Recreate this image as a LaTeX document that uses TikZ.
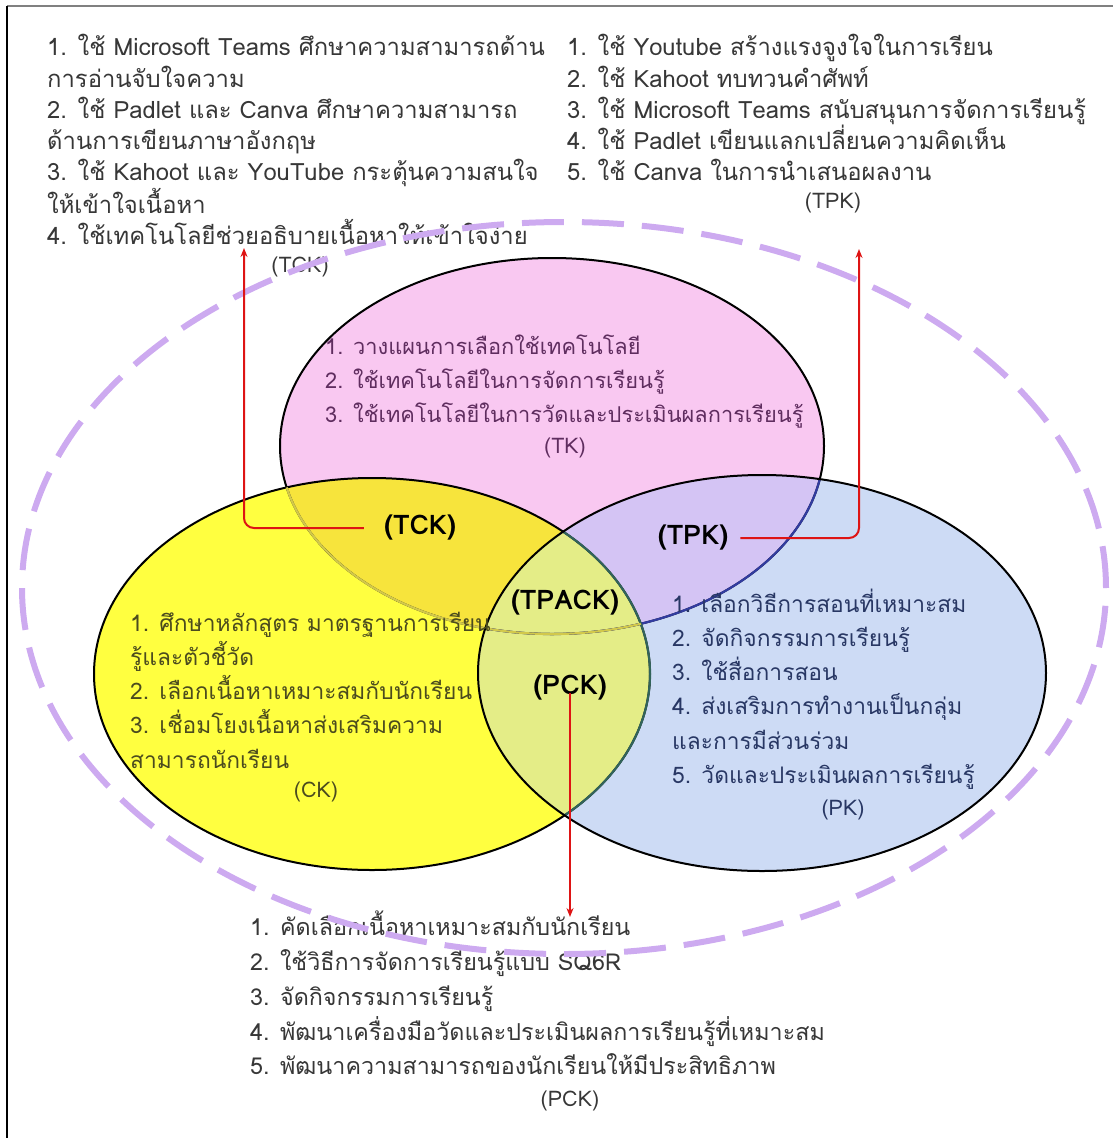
\documentclass[tikz,border=0pt]{standalone}
\usepackage{fontspec}
\setmainfont{Loma}[Script=Thai]
\usetikzlibrary{arrows.meta}
\definecolor{tkfill}{RGB}{249,200,241}
\definecolor{ckfill}{RGB}{255,255,64}
\definecolor{pkfill}{RGB}{205,219,245}
\definecolor{tckfill}{RGB}{247,228,60}
\definecolor{tpkfill}{RGB}{212,196,244}
\definecolor{pckfill}{RGB}{228,237,135}
\definecolor{dashpurple}{RGB}{205,170,240}
\definecolor{arrowred}{RGB}{222,20,20}
\definecolor{txtgray}{RGB}{55,55,55}
\definecolor{tktext}{RGB}{95,45,95}
\definecolor{cktext}{RGB}{75,75,30}
\definecolor{pktext}{RGB}{40,55,100}
\newcommand{\topline}{\rule{0pt}{30pt}}
\begin{document}
\begin{tikzpicture}[x=1pt,y=-1pt,
  tk/.style={insert path={(TK) ellipse [x radius=272pt, y radius=188pt]}},
  ck/.style={insert path={(CK) ellipse [x radius=278pt, y radius=196pt]}},
  pk/.style={insert path={(PK) ellipse [x radius=284pt, y radius=198pt]}},
  body/.style={align=left, anchor=north west, inner sep=0pt, text=txtgray,
    font=\fontsize{23.8}{31.3}\selectfont},
  inbody/.style={body, font=\fontsize{22.8}{34.2}\selectfont},
  tag/.style={inner sep=0pt, text=txtgray, font=\fontsize{21.5}{24}\selectfont},
  lab/.style={inner sep=0pt, font=\fontsize{27}{30}\selectfont\bfseries},
  flow/.style={draw=arrowred, line width=2pt, rounded corners=10pt,
    -{Stealth[length=9pt,width=7pt]}}]
  \useasboundingbox (0,0) rectangle (1113,1138);
  \path (552,446) coordinate (TK)
    (372,674) coordinate (CK)
    (762,673) coordinate (PK)
    (564,588) coordinate (O);
  % fills of the three sets and their overlaps
  \fill[tkfill][tk];
  \fill[ckfill][ck];
  \fill[pkfill][pk];
  \begin{scope}
    \clip[tk];
    \fill[tckfill][ck];
    \fill[tpkfill][pk];
  \end{scope}
  \begin{scope}
    \clip[ck];
    \fill[pckfill][pk];
  \end{scope}
  % outlines
  \draw[line width=2pt][tk];
  \draw[line width=2pt][ck];
  \begin{scope}
    \clip[pk];
    \draw[line width=2.2pt, draw={rgb,255:red,50;green,60;blue,160}][tk];
    \draw[line width=2.2pt, draw={rgb,255:red,50;green,100;blue,90}][ck];
  \end{scope}
  \begin{scope}
    \clip[ck];
    \draw[line width=2.2pt, draw={rgb,255:red,210;green,200;blue,75}][tk];
  \end{scope}
  \draw[line width=2pt][pk];
  % texts inside the sets
  \node[inbody, text=tktext, font=\fontsize{21.8}{34}\selectfont] (tklist) at (325,324) {\topline 1. วางแผนการเลือกใช้เทคโนโลยี\\
    2. ใช้เทคโนโลยีในการจัดการเรียนรู้\\
    3. ใช้เทคโนโลยีในการวัดและประเมินผลการเรียนรู้};
  \node[tag, text=tktext] (tktag) at (565,448) {(TK)};
  \node[inbody, text=cktext] (cklist) at (130,601) {\topline 1. ศึกษาหลักสูตร มาตรฐานการเรียน\\
    รู้และตัวชี้วัด\\
    2. เลือกเนื้อหาเหมาะสมกับนักเรียน\\
    3. เชื่อมโยงเนื้อหาส่งเสริมความ\\
    สามารถนักเรียน};
  \node[tag, text=cktext] (cktag) at (316,792) {(CK)};
  \node[inbody, text=pktext] (pklist) at (672,582) {\topline 1. เลือกวิธีการสอนที่เหมาะสม\\
    2. จัดกิจกรรมการเรียนรู้\\
    3. ใช้สื่อการสอน\\
    4. ส่งเสริมการทำงานเป็นกลุ่ม\\
    และการมีส่วนร่วม\\
    5. วัดและประเมินผลการเรียนรู้};
  \node[tag, text=pktext] (pktag) at (843,810) {(PK)};
  \node[lab] (tcklbl) at (420,528) {(TCK)};
  \node[lab] (tpklbl) at (693,538) {(TPK)};
  \node[lab] (tpacklbl) at (565,603) {(TPACK)};
  \node[lab] (pcklbl) at (570,688) {(PCK)};
  % texts outside
  \node[body] (tcklist) at (47,25.5) {\topline 1. ใช้ Microsoft Teams ศึกษาความสามารถด้าน\\
    การอ่านจับใจความ\\
    2. ใช้ Padlet และ Canva ศึกษาความสามารถ\\
    ด้านการเขียนภาษาอังกฤษ\\
    3. ใช้ Kahoot และ YouTube กระตุ้นความสนใจ\\
    ให้เข้าใจเนื้อหา\\
    4. ใช้เทคโนโลยีช่วยอธิบายเนื้อหาให้เข้าใจง่าย};
  \node[tag] (tcktag) at (300,267) {(TCK)};
  \node[body] (tpklist) at (567,25.5) {\topline 1. ใช้ Youtube สร้างแรงจูงใจในการเรียน\\
    2. ใช้ Kahoot ทบทวนคำศัพท์\\
    3. ใช้ Microsoft Teams สนับสนุนการจัดการเรียนรู้\\
    4. ใช้ Padlet เขียนแลกเปลี่ยนความคิดเห็น\\
    5. ใช้ Canva ในการนำเสนอผลงาน};
  \node[tag] (tpktag) at (833,203) {(TPK)};
  \node[body, font=\fontsize{23.3}{34.8}\selectfont] (pcklist) at (250,905.5) {\topline 1. คัดเลือกเนื้อหาเหมาะสมกับนักเรียน\\
    2. ใช้วิธีการจัดการเรียนรู้แบบ SQ6R\\
    3. จัดกิจกรรมการเรียนรู้\\
    4. พัฒนาเครื่องมือวัดและประเมินผลการเรียนรู้ที่เหมาะสม\\
    5. พัฒนาความสามารถของนักเรียนให้มีประสิทธิภาพ};
  \node[tag] (pcktag) at (570,1101) {(PCK)};
  % dashed frame of the context
  \draw[dashpurple, line width=6pt, dash pattern=on 42pt off 18pt] (O) ellipse [x radius=542pt, y radius=366pt];
  % arrows to the lists
  \coordinate (tcktip) at (244,248);
  \coordinate (tpktip) at (859,249);
  \coordinate (pcktip) at (570,917);
  \draw[flow] ([xshift=-20pt]tcklbl.west) -| (tcktip);
  \draw[flow] ([xshift=12pt]tpklbl.east) -| (tpktip);
  \draw[flow] ([yshift=8pt]pcklbl.south) -- (pcktip);
  % page edges
  \draw[line width=2pt, draw={rgb,255:red,128;green,128;blue,128}] (7,6) -- (1113,6);
  \draw[line width=2pt] (7,6) -- (7,1138);
\end{tikzpicture}
\end{document}
